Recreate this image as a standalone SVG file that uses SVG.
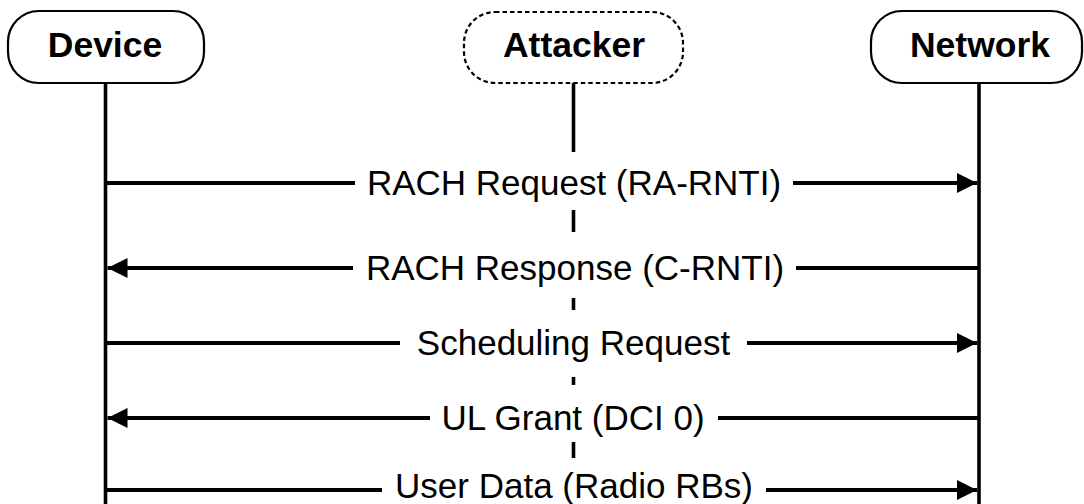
<svg xmlns="http://www.w3.org/2000/svg" width="1084" height="504" viewBox="0 0 1084 504">
  <style>
    .box { fill: #ffffff; stroke: #000000; stroke-width: 2.2; }
    .dashed { stroke-dasharray: 4.5 3; }
    .title { font-family: "Liberation Sans", Arial, sans-serif; font-weight: bold; font-size: 35.5px; fill: #000; text-anchor: middle; }
    .life { stroke: #000; stroke-width: 3.6; fill: none; }
    .msg { stroke: #000; stroke-width: 4; fill: none; }
    .lblbg { fill: #ffffff; stroke: none; }
    .lbl { font-family: "Liberation Sans", Arial, sans-serif; font-size: 35px; fill: #000; text-anchor: middle; }
  </style>
  <defs>
    <marker id="arrow" viewBox="0 0 20 20" refX="20" refY="10" markerWidth="20" markerHeight="20" markerUnits="userSpaceOnUse" orient="auto">
      <path d="M0,0 L20,10 L0,20 Z" fill="#000"/>
    </marker>
  </defs>
  <rect width="1084" height="504" fill="#ffffff"/>

  <g id="lifelines">
    <line class="life" x1="105.5" y1="83" x2="105.5" y2="504"/>
    <line class="life" x1="573.5" y1="83" x2="573.5" y2="504"/>
    <line class="life" x1="979" y1="83" x2="979" y2="504"/>
  </g>

  <g id="node-device">
    <rect class="box" x="8" y="11" width="196" height="72" rx="31" ry="31"/>
    <text class="title" x="105" y="57">Device</text>
  </g>
  <g id="node-attacker">
    <rect class="box dashed" x="464" y="12" width="219" height="71" rx="31" ry="31"/>
    <text class="title" x="574" y="57">Attacker</text>
  </g>
  <g id="node-network">
    <rect class="box" x="871" y="11" width="211" height="72" rx="31" ry="31"/>
    <text class="title" x="980" y="57">Network</text>
  </g>

  <g id="connectors">
    <line class="msg" x1="105.5" y1="183" x2="977" y2="183" marker-end="url(#arrow)"/>
    <line class="msg" x1="979" y1="268" x2="107.5" y2="268" marker-end="url(#arrow)"/>
    <line class="msg" x1="105.5" y1="343" x2="977" y2="343" marker-end="url(#arrow)"/>
    <line class="msg" x1="979" y1="418" x2="107.5" y2="418" marker-end="url(#arrow)"/>
    <line class="msg" x1="105.5" y1="490" x2="977" y2="490" marker-end="url(#arrow)"/>
  </g>

  <g id="labels">
    <rect class="lblbg" x="355" y="152" width="438" height="58"/>
    <text class="lbl" x="574" y="195">RACH Request (RA-RNTI)</text>
    <rect class="lblbg" x="353" y="232" width="443" height="66"/>
    <text class="lbl" x="575" y="280">RACH Response (C-RNTI)</text>
    <rect class="lblbg" x="400" y="310" width="347" height="67"/>
    <text class="lbl" x="573.5" y="355">Scheduling Request</text>
    <rect class="lblbg" x="430" y="385" width="288" height="57"/>
    <text class="lbl" x="573" y="430">UL Grant (DCI 0)</text>
    <rect class="lblbg" x="382" y="458" width="384" height="46"/>
    <text class="lbl" x="574" y="498">User Data (Radio RBs)</text>
  </g>
</svg>
